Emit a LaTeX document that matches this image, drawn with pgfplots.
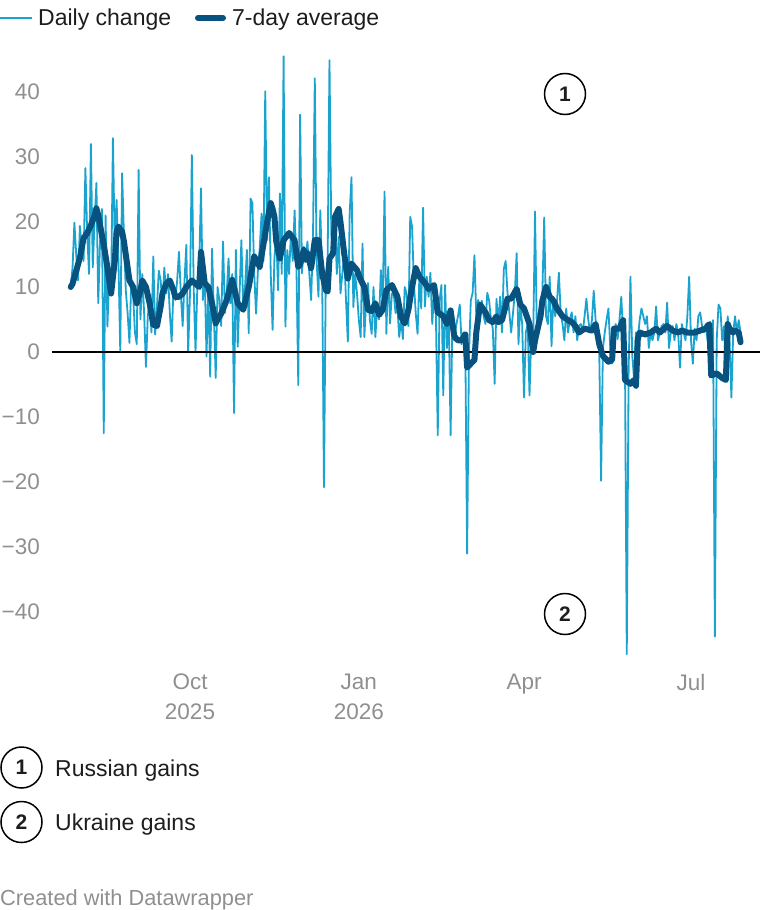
\documentclass[border=0pt]{standalone}
\usepackage{pgfplots}
\pgfplotsset{compat=1.18}
\usepackage{fontspec}
\setmainfont{Liberation Sans}
\definecolor{daily}{HTML}{1BA3D0}
\definecolor{avg}{HTML}{07527E}
\definecolor{tickgrey}{HTML}{8F8F8F}
\definecolor{txt}{HTML}{1D1D1D}
\begin{document}
\begin{tikzpicture}
\path[use as bounding box] (0,0) rectangle (760pt,-910pt);
\begin{axis}[
  at={(52pt,-53pt)}, anchor=north west,
  scale only axis, width=708pt, height=604.5pt,
  xmin=-10.2, xmax=375.6, ymin=-47, ymax=46,
  axis line style={draw=none}, major tick length=0pt,
  clip=false,
  xtick={65,157,247,338},
  xticklabels={Oct\\2025,Jan\\2026,Apr,Jul},
  xticklabel style={anchor=north, inner sep=0pt, yshift=-16pt, align=center, text=tickgrey, font=\fontsize{22.5}{30}\selectfont},
  ytick={-40,-30,-20,-10,0,10,20,30,40},
  yticklabels={−40,−30,−20,−10,0,10,20,30,40},
  yticklabel style={anchor=east, inner sep=0pt, xshift=-12pt, text=tickgrey, font=\fontsize{22.5}{27}\selectfont},
]
\addplot[daily, line width=1.8pt, line join=round] coordinates {
(0,10)(1,13)(2,19.9)(3,15)(4,11)(5,19.4)(6,16)(7,14)(8,28.3)(9,18)(10,12)(11,32)(12,13)(13,20)(14,26)(15,7.5)(16,17)(17,22)(18,-12.5)(19,21)(20,3.9)(21,12)(22,9)(23,32.9)(24,16)(25,23.4)(26,14)(27,0)(28,27.5)(29,18)(30,9.5)(31,6)(32,1.4)(33,11)(34,8.8)(35,3)(36,1.2)(37,28)(38,5)(39,12)(40,6)(41,-2.3)(42,5.5)(43,8)(44,3)(45,14.7)(46,2.7)(47,7)(48,12.5)(49,11)(50,7)(51,13)(52,9)(53,12)(54,6)(55,1.6)(56,10)(57,8)(58,11)(59,15.4)(60,9)(61,4)(62,11)(63,16.5)(64,0)(65,9)
(66,30.3)(67,10)(68,0)(69,10)(70,13)(71,25.2)(72,8)(73,12)(74,-0.7)(75,10)(76,-3.8)(77,15.9)(78,6)(79,-4)(80,10)(81,8)(82,4)(83,17)(84,6)(85,9)(86,14.4)(87,7.5)(88,12)(89,-9.4)(90,15.7)(91,0.8)(92,9)(93,17.2)(94,6.9)(95,10)(96,15.7)(97,2.9)(98,23.6)(99,22.9)(100,12)(101,5.9)(102,12.6)(103,16)(104,21.3)(105,14)(106,40.1)(107,17.2)(108,26.9)(109,12)(110,3.4)(111,14.4)(112,18)(113,9.5)(114,24.4)(115,12)(116,45.5)(117,3.9)(118,15.7)(119,12)(120,18.3)(121,14)(122,21.8)(123,13.1)(124,-5.1)(125,36.5)(126,12.1)(127,16.2)(128,14.2)(129,17)(130,12.1)
(131,8)(132,17.2)(133,42.1)(134,14)(135,8.5)(136,21.8)(137,12.1)(138,-20.8)(139,12.1)(140,14)(141,44.9)(142,18)(143,15.2)(144,20.3)(145,12)(146,17.7)(147,9)(148,12)(149,15.2)(150,8)(151,1.6)(152,21.3)(153,26.9)(154,6.9)(155,12)(156,9)(157,4.9)(158,2.3)(159,16.7)(160,2.3)(161,8)(162,10.6)(163,5)(164,2.8)(165,10)(166,2.3)(167,7)(168,5)(169,12.6)(170,7)(171,24.7)(172,2.8)(173,13.1)(174,4.4)(175,9)(176,9)(177,6)(178,7)(179,2.3)(180,5)(181,2)(182,10)(183,9)(184,4)(185,20.8)(186,19.3)(187,10.6)(188,6)(189,2.8)
(190,11.6)(191,6.7)(192,22.2)(193,7)(194,11.6)(195,8.5)(196,12.2)(197,4.3)(198,9.1)(199,5.5)(200,-12.8)(201,7.9)(202,10.3)(203,-6.7)(204,10.3)(205,0.6)(206,5.5)(207,-12.8)(208,4.9)(209,1.8)(210,4)(211,5.5)(212,7.3)(213,1.2)(214,3)(215,1.8)(216,-31)(217,-0.6)(218,7.9)(219,9.1)(220,14.9)(221,5.5)(222,8)(223,6.7)(224,7.9)(225,5.5)(226,4.3)(227,9.1)(228,7.9)(229,5)(230,3.6)(231,-4.9)(232,8.2)(233,4.3)(234,8.5)(235,3)(236,12.8)(237,14)(238,9.1)(239,6.1)(240,3)(241,6)(242,9.1)(243,15.2)(244,1.2)(245,7.3)(246,4.3)(247,-7)(248,3)(249,4.3)(250,-6.7)(251,3)(252,1.8)(253,21.6)(254,3)(255,6)
(256,6.7)(257,9.1)(258,20.7)(259,5.5)(260,4.3)(261,11.6)(262,0.9)(263,8.5)(264,5.5)(265,7.9)(266,12.2)(267,6)(268,4.3)(269,1.8)(270,6.7)(271,3)(272,5)(273,6.1)(274,3)(275,5.5)(276,1.8)(277,4)(278,4.3)(279,3)(280,5.5)(281,8.2)(282,5)(283,3)(284,4.9)(285,9.4)(286,5)(287,3)(288,0)(289,-19.8)(290,0.6)(291,3)(292,5)(293,6.7)(294,0.6)(295,-1.8)(296,3)(297,4.3)(298,2)(299,4.9)(300,8.5)(301,3)(302,-0.6)(303,-46.5)(304,-3)(305,11.6)(306,-0.6)(307,-4.3)(308,3)(309,1.8)(310,4.9)
(311,6.7)(312,5.5)(313,4.3)(314,5.5)(315,0.6)(316,3)(317,1.8)(318,3)(319,7)(320,1.8)(321,3)(322,4)(323,4.3)(324,3)(325,7.6)(326,0.6)(327,3)(328,4)(329,1.8)(330,4.3)(331,3)(332,-2.4)(333,4.3)(334,3)(335,1.8)(336,5.5)(337,11.6)(338,1.8)(339,-1.8)(340,3.6)(341,1.8)(342,5.5)(343,6.1)(344,4)(345,3)(346,4.3)(347,1.8)(348,4.3)(349,3)(350,4.9)(351,-43.8)(352,1.8)(353,7.3)(354,6.7)(355,1.8)(356,4)(357,-3)(358,5.5)(359,1.8)(360,-7)(361,3)(362,5.5)(363,3)(364,4.9)(365,3)
};
\addplot[black, line width=2pt, forget plot] coordinates {(-10.2,0) (375.6,0)};
\addplot[avg, line width=6pt, line join=round, line cap=round] coordinates {
(0,10)(1,10.5)(3,12.5)(5,14.5)(7,17.5)(9,18.3)(11,19.5)(13,21)(14,22.1)(15,21)(17,18)(18,16.5)(20,13)(22,9)(24,14)(25,18.5)(26,19.3)(28,18.5)(29,17)(31,13)(32,11)(34,10)(36,7.5)(38,9.5)(39,11)(41,10)(43,7.5)(45,4.2)(47,4)(49,7)(50,9)(52,10.5)(54,11)(56,9.5)(57,8.5)(59,8.5)(61,9)(63,10)(66,11)(68,10.5)(70,10)(71,15.4)(72,13)(73,10.6)(75,10)(77,7.5)(79,4.4)(80,5)(82,5.9)(85,8)(88,11.1)(91,7.5)(94,6.5)(97,10)(100,14.7)(103,13.1)(106,18.3)(108,21.5)(109,22.9)(110,22)(111,20.8)(112,17)(114,14.4)(116,17.2)(119,18.3)(122,17.2)(124,13.1)(125,13.5)(127,15.7)(128,14.2)(129,15.2)(131,12.9)(133,17.2)(135,17.2)(137,12.1)(139,9.5)(140,9.3)(141,14.4)(143,15.2)(144,20.8)(146,22)(147,20)(149,15.2)(151,11.3)(153,13.6)(156,12.6)(158,11.1)(160,10)(162,6.5)(164,6.3)(166,7.5)(168,5.7)(170,6.5)(172,9.5)(175,10.3)(178,8.5)(180,5.4)(182,4.4)(184,6.5)(186,10)(188,12.9)(190,11.6)(193,10.6)(195,9.7)(198,10.3)(200,6.1)(203,5.5)(205,4.3)(207,6.4)(209,2.4)(211,1.8)(213,1.8)(215,2.7)(216,-2.4)(218,-1.8)(220,-1.2)(221,3)(223,7.3)(226,6.1)(228,4.9)(230,4.6)(232,5.5)(233,4.6)(235,4.9)(238,8.2)(240,8.2)(243,9.7)(245,7.3)(247,6.7)(250,4.3)(252,0)(253,1.8)(256,5.5)(257,7.9)(259,10)(261,8.5)(263,7.9)(265,6.7)(268,5.5)(271,4.9)(273,4.6)(275,4)(277,3)(280,3.6)(284,3.3)(286,4.3)(288,1.2)(290,-0.6)(293,-1.5)(295,-1.2)(296,3.6)(299,3.6)(301,4.9)(302,-4.3)(305,-4.9)(307,-4.3)(308,-5.2)(309,2)(310,3)(313,2.7)(316,3)(319,3.6)(321,3)(325,4)(328,3.3)(331,3)(333,3.3)(336,3)(340,3)(343,3.3)(346,3.6)(348,4.3)(349,-3.6)(352,-3.3)(355,-4)(357,-4.3)(358,4.3)(359,3.6)(361,3)(362,3.3)(364,3)(365,1.5)
};
\end{axis}
% top legend
\draw[daily, line width=1.8pt] (0pt,-18pt) -- (32pt,-18pt);
\node[anchor=base west, inner sep=0pt, text=txt, font=\fontsize{23}{27}\selectfont] at (38pt,-25pt) {Daily change};
\draw[avg, line width=6pt, line cap=round] (198pt,-18pt) -- (223pt,-18pt);
\node[anchor=base west, inner sep=0pt, text=txt, font=\fontsize{23}{27}\selectfont] at (232pt,-25pt) {7-day average};
% annotation circles
\draw[black, line width=1.5pt] (565pt,-94pt) circle (20.5pt);
\node[text=txt, font=\bfseries\fontsize{21}{25}\selectfont] at (565pt,-94pt) {1};
\draw[black, line width=1.5pt] (565pt,-614pt) circle (20.5pt);
\node[text=txt, font=\bfseries\fontsize{21}{25}\selectfont] at (565pt,-614pt) {2};
% bottom key
\draw[black, line width=1.5pt] (21.5pt,-767.5pt) circle (20.5pt);
\node[text=txt, font=\bfseries\fontsize{21}{25}\selectfont] at (21.5pt,-767.5pt) {1};
\node[anchor=base west, inner sep=0pt, text=txt, font=\fontsize{23}{27}\selectfont] at (55pt,-776pt) {Russian gains};
\draw[black, line width=1.5pt] (21.5pt,-822pt) circle (20.5pt);
\node[text=txt, font=\bfseries\fontsize{21}{25}\selectfont] at (21.5pt,-822pt) {2};
\node[anchor=base west, inner sep=0pt, text=txt, font=\fontsize{23}{27}\selectfont] at (55pt,-830pt) {Ukraine gains};
% footer
\node[anchor=base west, inner sep=0pt, text=tickgrey, font=\fontsize{21.8}{26}\selectfont] at (0pt,-905pt) {Created with Datawrapper};
\end{tikzpicture}
\end{document}
